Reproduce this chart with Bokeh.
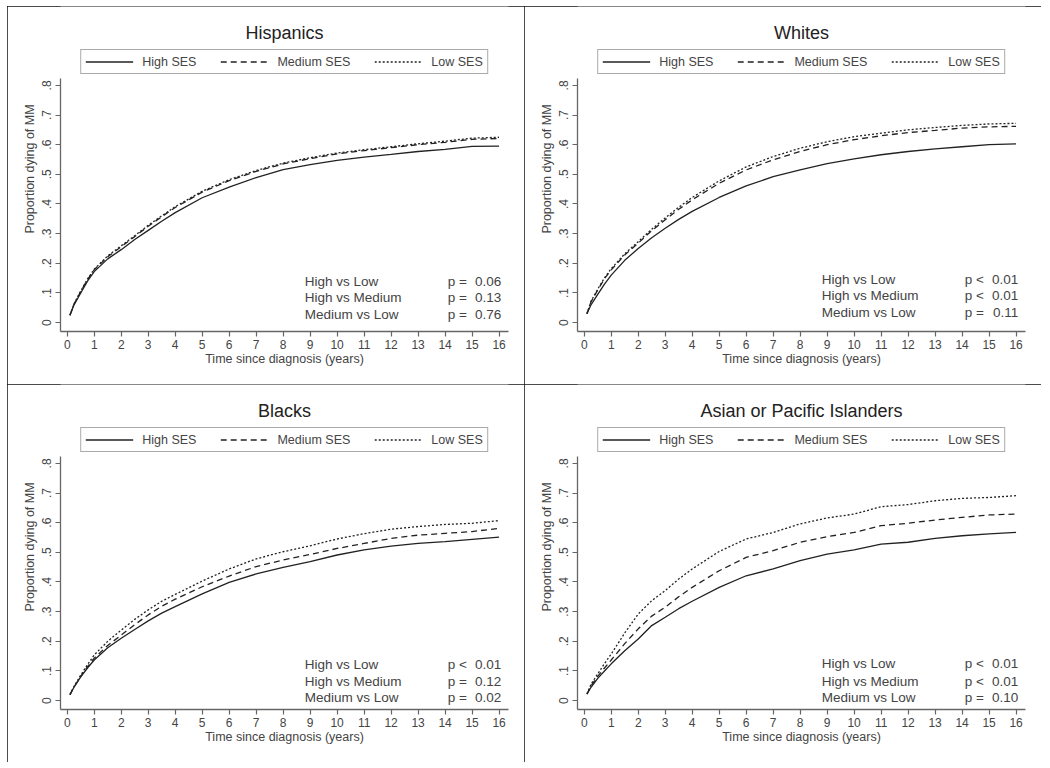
from bokeh.plotting import figure
from bokeh.layouts import column, row
from bokeh.models import Legend, LegendItem, FixedTicker, Range1d
from bokeh.embed import file_html
from bokeh.resources import INLINE
from bokeh.core.properties import value

# ---------------- data ----------------
times = [0.1, 0.25, 0.5, 0.75, 1, 1.5, 2, 2.5, 3, 3.5, 4, 5, 6, 7, 8, 9, 10, 11, 12, 13, 14, 15, 16]

hisp_high = [0.025, 0.060, 0.100, 0.140, 0.172, 0.215, 0.246, 0.280, 0.311, 0.342, 0.371, 0.421, 0.457, 0.489, 0.516, 0.533, 0.547, 0.558, 0.567, 0.577, 0.584, 0.594, 0.595]
hisp_med = [0.025, 0.062, 0.105, 0.145, 0.178, 0.222, 0.256, 0.290, 0.325, 0.357, 0.388, 0.440, 0.479, 0.510, 0.535, 0.553, 0.569, 0.580, 0.590, 0.600, 0.608, 0.618, 0.621]
hisp_low = [0.025, 0.063, 0.107, 0.147, 0.180, 0.225, 0.259, 0.293, 0.328, 0.360, 0.391, 0.443, 0.482, 0.513, 0.538, 0.556, 0.572, 0.583, 0.593, 0.603, 0.612, 0.622, 0.625]

white_high = [0.030, 0.060, 0.095, 0.130, 0.160, 0.210, 0.250, 0.286, 0.318, 0.348, 0.375, 0.422, 0.461, 0.492, 0.515, 0.536, 0.552, 0.566, 0.577, 0.586, 0.593, 0.600, 0.603]
white_med = [0.030, 0.070, 0.110, 0.148, 0.178, 0.228, 0.268, 0.310, 0.347, 0.382, 0.414, 0.470, 0.515, 0.549, 0.577, 0.600, 0.617, 0.630, 0.641, 0.648, 0.656, 0.660, 0.662]
white_low = [0.030, 0.072, 0.113, 0.151, 0.182, 0.232, 0.273, 0.315, 0.353, 0.389, 0.422, 0.478, 0.525, 0.560, 0.588, 0.610, 0.627, 0.639, 0.650, 0.658, 0.665, 0.670, 0.672]

black_high = [0.020, 0.045, 0.080, 0.110, 0.137, 0.178, 0.210, 0.240, 0.269, 0.295, 0.317, 0.360, 0.399, 0.427, 0.449, 0.469, 0.491, 0.508, 0.521, 0.530, 0.536, 0.544, 0.551]
black_med = [0.020, 0.046, 0.082, 0.114, 0.143, 0.186, 0.221, 0.256, 0.289, 0.318, 0.342, 0.384, 0.420, 0.452, 0.474, 0.493, 0.513, 0.530, 0.547, 0.558, 0.564, 0.570, 0.581]
black_low = [0.020, 0.048, 0.086, 0.121, 0.154, 0.200, 0.238, 0.274, 0.306, 0.335, 0.358, 0.403, 0.444, 0.478, 0.502, 0.522, 0.545, 0.563, 0.578, 0.587, 0.594, 0.598, 0.607]

asian_high = [0.022, 0.045, 0.075, 0.100, 0.124, 0.168, 0.208, 0.253, 0.281, 0.310, 0.335, 0.382, 0.421, 0.444, 0.472, 0.494, 0.508, 0.528, 0.534, 0.547, 0.556, 0.562, 0.567]
asian_med = [0.022, 0.050, 0.082, 0.110, 0.137, 0.192, 0.242, 0.285, 0.315, 0.350, 0.382, 0.438, 0.483, 0.506, 0.534, 0.553, 0.567, 0.590, 0.598, 0.609, 0.618, 0.626, 0.629]
asian_low = [0.022, 0.055, 0.090, 0.125, 0.157, 0.228, 0.292, 0.337, 0.371, 0.410, 0.444, 0.503, 0.545, 0.567, 0.596, 0.616, 0.629, 0.654, 0.661, 0.674, 0.682, 0.685, 0.691]

titles = ["Hispanics", "Whites", "Blacks", "Asian or Pacific Islanders"]
series_labels = ["High SES", "Medium SES", "Low SES"]
comparisons = ["High vs Low", "High vs Medium", "Medium vs Low"]
hisp_ops = ["=", "=", "="]
hisp_p = ["0.06", "0.13", "0.76"]
white_ops = ["<", "<", "="]
white_p = ["0.01", "0.01", "0.11"]
black_ops = ["<", "=", "="]
black_p = ["0.01", "0.12", "0.02"]
asian_ops = ["<", "<", "="]
asian_p = ["0.01", "0.01", "0.10"]

x_ticks = list(range(0, 17))
y_ticks = [0, 0.1, 0.2, 0.3, 0.4, 0.5, 0.6, 0.7, 0.8]
y_tick_labels = ["0", ".1", ".2", ".3", ".4", ".5", ".6", ".7", ".8"]
y_title = "Proportion dying of MM"
x_title = "Time since diagnosis (years)"

# ---------------- style ----------------
FONT = "Liberation Sans"
LINE_COLOR = "#222222"
TEXT_COLOR = "#444444"
AXIS_COLOR = "#666666"
DASHES = ["solid", "6 4", "2 2"]

Y_AXIS_LO, Y_AXIS_HI = -0.03, 0.823     # extent of the drawn y axis
Y_TOP = 1.066                            # headroom above the axis for title + legend
TITLE_Y = 0.975
X_LO, X_HI = -0.25, 16.35


def make_panel(title, high, med, low, ops, pvals, ann_y):
    p = figure(width=517, height=378, output_backend="svg", toolbar_location=None,
               x_range=Range1d(X_LO, X_HI), y_range=Range1d(Y_AXIS_LO, Y_TOP),
               min_border_left=53, min_border_right=16, min_border_top=0, min_border_bottom=53,
               background_fill_color="white", border_fill_color="white",
               styles={"outline": "1.5px solid #111111", "outline-offset": "-1.5px"})
    p.title.text = ""
    p.grid.visible = False
    p.outline_line_color = None

    # title drawn inside the (extended) frame
    p.text(x=[(X_LO + X_HI) / 2], y=[TITLE_Y], text=[title], text_font=value(FONT),
           text_font_size="18px", text_color="#222222", text_align="center", text_baseline="middle")

    renderers = []
    for ys, dash in zip([high, med, low], DASHES):
        r = p.line(times, ys, line_color=LINE_COLOR, line_width=1.3, line_dash=dash)
        renderers.append(r)

    legend = Legend(items=[LegendItem(label=lab, renderers=[r]) for lab, r in zip(series_labels, renderers)],
                    orientation="horizontal", location="top_center",
                    label_text_font=FONT, label_text_font_size="12.5px", label_text_color=TEXT_COLOR,
                    glyph_width=48, glyph_height=15, label_height=15, label_standoff=9,
                    spacing=24, padding=4, margin=43,
                    border_line_color="#555555", border_line_width=1.5,
                    background_fill_color="white", background_fill_alpha=1.0)
    p.add_layout(legend)

    # axes
    for ax in (p.xaxis, p.yaxis):
        ax.axis_line_color = AXIS_COLOR
        ax.axis_line_width = 1.3
        ax.major_tick_line_color = AXIS_COLOR
        ax.major_tick_line_width = 1.2
        ax.major_tick_out = 5
        ax.major_tick_in = 0
        ax.minor_tick_line_color = None
        ax.major_label_text_font = FONT
        ax.major_label_text_color = TEXT_COLOR
        ax.axis_label_text_font = FONT
        ax.axis_label_text_font_style = "normal"
        ax.axis_label_text_color = TEXT_COLOR
        ax.axis_label_text_font_size = "12.5px"

    p.xaxis.ticker = FixedTicker(ticks=x_ticks)
    p.xaxis.major_label_text_font_size = "12px"
    p.xaxis.major_label_standoff = 3
    p.xaxis.axis_label = x_title
    p.xaxis.axis_label_standoff = 0

    p.yaxis.bounds = (Y_AXIS_LO, Y_AXIS_HI)
    p.yaxis.ticker = FixedTicker(ticks=y_ticks)
    p.yaxis.major_label_overrides = {t: lab for t, lab in zip(y_ticks, y_tick_labels)}
    p.yaxis.major_label_orientation = "vertical"
    p.yaxis.major_label_text_font_size = "12px"
    p.yaxis.major_label_standoff = 4
    p.yaxis.axis_label = y_title
    p.yaxis.axis_label_standoff = 3

    p.text(x=[8.8] * 3, y=ann_y, text=comparisons, text_font=value(FONT), text_font_size="13.5px",
           text_color=TEXT_COLOR, text_align="left", text_baseline="middle")
    p.text(x=[14.1] * 3, y=ann_y, text=["p " + o for o in ops], text_font=value(FONT), text_font_size="13.5px",
           text_color=TEXT_COLOR, text_align="left", text_baseline="middle")
    p.text(x=[16.08] * 3, y=ann_y, text=pvals, text_font=value(FONT), text_font_size="13.5px",
           text_color=TEXT_COLOR, text_align="right", text_baseline="middle")
    return p


p1 = make_panel(titles[0], hisp_high, hisp_med, hisp_low, hisp_ops, hisp_p, [0.139, 0.083, 0.027])
p2 = make_panel(titles[1], white_high, white_med, white_low, white_ops, white_p, [0.146, 0.090, 0.034])
p3 = make_panel(titles[2], black_high, black_med, black_low, black_ops, black_p, [0.122, 0.066, 0.010])
p4 = make_panel(titles[3], asian_high, asian_med, asian_low, asian_ops, asian_p, [0.124, 0.066, 0.011])

layout = column(row(p1, p2, spacing=0), row(p3, p4, spacing=0), spacing=0,
                styles={"margin-left": "7px", "margin-top": "6px"})

open("out.html", "w").write(file_html(layout, INLINE))
